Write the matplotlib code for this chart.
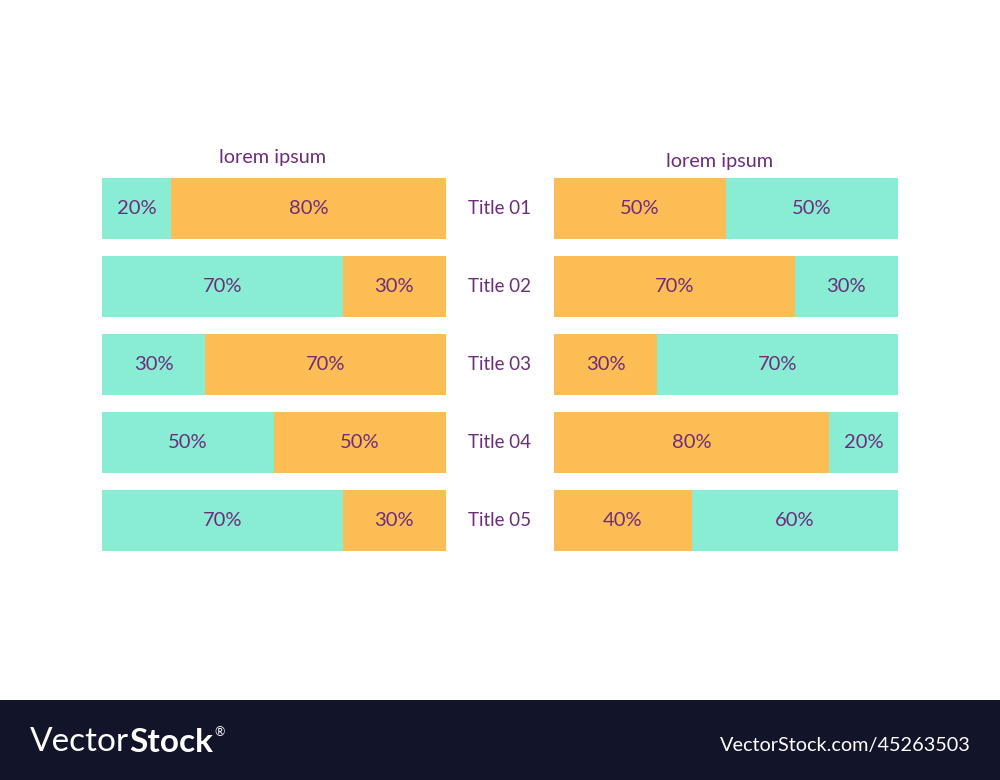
import matplotlib
matplotlib.use("Agg")
import matplotlib.pyplot as plt
from matplotlib.patches import Rectangle

titles = ["Title 01", "Title 02", "Title 03", "Title 04", "Title 05"]
left_teal = [20, 70, 30, 50, 70]
left_orange = [80, 30, 70, 50, 30]
right_orange = [50, 70, 30, 80, 40]
right_teal = [50, 30, 70, 20, 60]
panel_title = "lorem ipsum"

TEAL = "#88EDD3"
ORANGE = "#FDBD55"
PURPLE = "#6D2D7D"
FONT = ["Lato", "DejaVu Sans"]

W, H = 1000, 780
fig = plt.figure(figsize=(W / 100, H / 100), dpi=100)
fig.patch.set_facecolor("white")

def ax_at(x0, y0, x1, y1):
    return fig.add_axes([x0 / W, 1 - y1 / H, (x1 - x0) / W, (y1 - y0) / H])

h = 61 / 78
rows = list(range(len(titles)))

def draw_panel(ax, first, second, c1, c2):
    ax.barh(rows, first, height=h, color=c1, left=0)
    ax.barh(rows, second, height=h, color=c2, left=first)
    for i in rows:
        ax.text(first[i] / 2, i, f"{first[i]}%", ha="center", va="center",
                color=PURPLE, fontsize=14.5, family=FONT)
        ax.text(first[i] + second[i] / 2, i, f"{second[i]}%", ha="center",
                va="center", color=PURPLE, fontsize=14.5, family=FONT)
    ax.set_xlim(0, 100)
    ax.set_ylim(len(rows) - 1 + h / 2, -h / 2)
    ax.axis("off")

axl = ax_at(102, 178, 446, 551)
draw_panel(axl, left_teal, left_orange, TEAL, ORANGE)
axr = ax_at(554, 178, 898, 551)
draw_panel(axr, right_orange, right_teal, ORANGE, TEAL)

fig.text(273 / W, 1 - 158 / H, panel_title, ha="center", va="center",
         color=PURPLE, fontsize=14.3, family=FONT)
fig.text(720 / W, 1 - 161 / H, panel_title, ha="center", va="center",
         color=PURPLE, fontsize=14.3, family=FONT)

axm = ax_at(446, 178, 554, 551)
for i, t in enumerate(titles):
    axm.text(0.5, i, t, ha="center", va="center", color=PURPLE,
             fontsize=13.5, family=FONT)
axm.set_xlim(0, 1)
axm.set_ylim(len(rows) - 1 + h / 2, -h / 2)
axm.axis("off")

# bottom banner
fig.patches.append(Rectangle((0, 0), 1, 80 / H, transform=fig.transFigure,
                             facecolor="#12142A", edgecolor="none", zorder=0))
t1 = fig.text(30 / W, 1 - 742 / H, "Vector", ha="left", va="center",
              color="white", fontsize=24, family=FONT, fontweight="normal")
fig.canvas.draw()
bb = t1.get_window_extent()
t2 = fig.text(bb.x1 / W, 1 - 742 / H, "Stock", ha="left", va="center",
              color="white", fontsize=24, family=FONT, fontweight="bold")
fig.canvas.draw()
bb2 = t2.get_window_extent()
fig.text(bb2.x1 / W + 0.001, 1 - 732 / H, "®", ha="left", va="center",
         color="white", fontsize=9, family=FONT)
fig.text(971 / W, 1 - 746 / H, "VectorStock.com/45263503", ha="right",
         va="center", color="white", fontsize=14.3, family=FONT)

fig.savefig("out.png", dpi=100, facecolor="white")
